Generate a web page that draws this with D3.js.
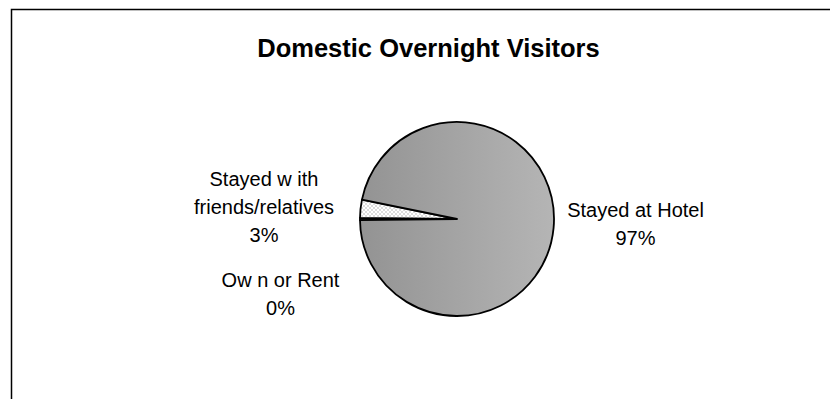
<!DOCTYPE html>
<html>
<head>
<meta charset="utf-8">
<script src="https://cdn.jsdelivr.net/npm/d3@7"></script>
<style>
  html, body { margin: 0; padding: 0; background: #fff; overflow: hidden; }
  svg { display: block; }
  text { font-family: "Liberation Sans", Arial, sans-serif; fill: #000; }
</style>
</head>
<body>
<script>
// Accommodation type of domestic overnight visitors (share of visitors)
const categories = ["Own or Rent", "Stayed with friends/relatives", "Stayed at Hotel"];
const labelLines = [["Ow n or Rent"], ["Stayed w ith", "friends/relatives"], ["Stayed at Hotel"]];
const shares = [0.4, 3.0, 96.6];
const chartTitle = "Domestic Overnight Visitors";

const W = 830, H = 399;
const cx = 457, cy = 219, radius = 97;
// label anchors relative to the pie centre (centre x of text block, first baseline)
const labelAnchor = [
  { dx: -176.5, dy: 68 },
  { dx: -193, dy: -33 },
  { dx: 178.5, dy: -2 }
];
const lineStep = 28;

const svg = d3.select("body").append("svg")
  .attr("width", W).attr("height", H);

const defs = svg.append("defs");
// horizontal shading across the pie, in the pie group's local coordinates
const grad = defs.append("linearGradient")
  .attr("id", "hotelFill")
  .attr("gradientUnits", "userSpaceOnUse")
  .attr("x1", -radius).attr("x2", radius)
  .attr("y1", 0).attr("y2", 0);
grad.append("stop").attr("offset", "0%").attr("stop-color", "#939393");
grad.append("stop").attr("offset", "100%").attr("stop-color", "#b5b5b5");

const dots = defs.append("pattern")
  .attr("id", "dots")
  .attr("patternUnits", "userSpaceOnUse")
  .attr("width", 4).attr("height", 4);
dots.append("rect").attr("width", 4).attr("height", 4).attr("fill", "#ffffff");
dots.append("circle").attr("cx", 1).attr("cy", 1).attr("r", 0.8).attr("fill", "#b0b0b0");
dots.append("circle").attr("cx", 3).attr("cy", 3).attr("r", 0.8).attr("fill", "#b0b0b0");

const fills = ["#f2f2f2", "url(#dots)", "url(#hotelFill)"];

// chart frame
svg.append("rect")
  .attr("x", 11.5).attr("y", 9.5)
  .attr("width", W + 20).attr("height", H + 20)
  .attr("fill", "none")
  .attr("stroke", "#000")
  .attr("stroke-width", 1.5);

// title
svg.append("text")
  .attr("x", 428.5).attr("y", 57)
  .attr("text-anchor", "middle")
  .attr("font-weight", "bold")
  .attr("font-size", "25.5px")
  .text(chartTitle);

// pie
const total = d3.sum(shares);
const rot = -90.72 * Math.PI / 180;
const pie = d3.pie().sort(null).value(d => d)
  .startAngle(rot).endAngle(rot + 2 * Math.PI);
const arcGen = d3.arc().innerRadius(0).outerRadius(radius);

const g = svg.append("g").attr("transform", `translate(${cx},${cy})`);
g.selectAll("path.slice")
  .data(pie(shares))
  .join("path")
  .attr("class", "slice")
  .attr("d", arcGen)
  .attr("fill", (d, i) => fills[i])
  .attr("stroke", "#000")
  .attr("stroke-width", 1.8)
  .attr("stroke-linejoin", "round");

// data labels
const pct = v => Math.round(v / total * 100) + "%";
categories.forEach((c, i) => {
  const lines = labelLines[i].concat([pct(shares[i])]);
  const t = svg.append("text")
    .attr("text-anchor", "middle")
    .attr("font-size", "20px");
  lines.forEach((ln, k) => {
    t.append("tspan")
      .attr("x", cx + labelAnchor[i].dx)
      .attr("y", cy + labelAnchor[i].dy + k * lineStep)
      .text(ln);
  });
});
</script>
</body>
</html>
